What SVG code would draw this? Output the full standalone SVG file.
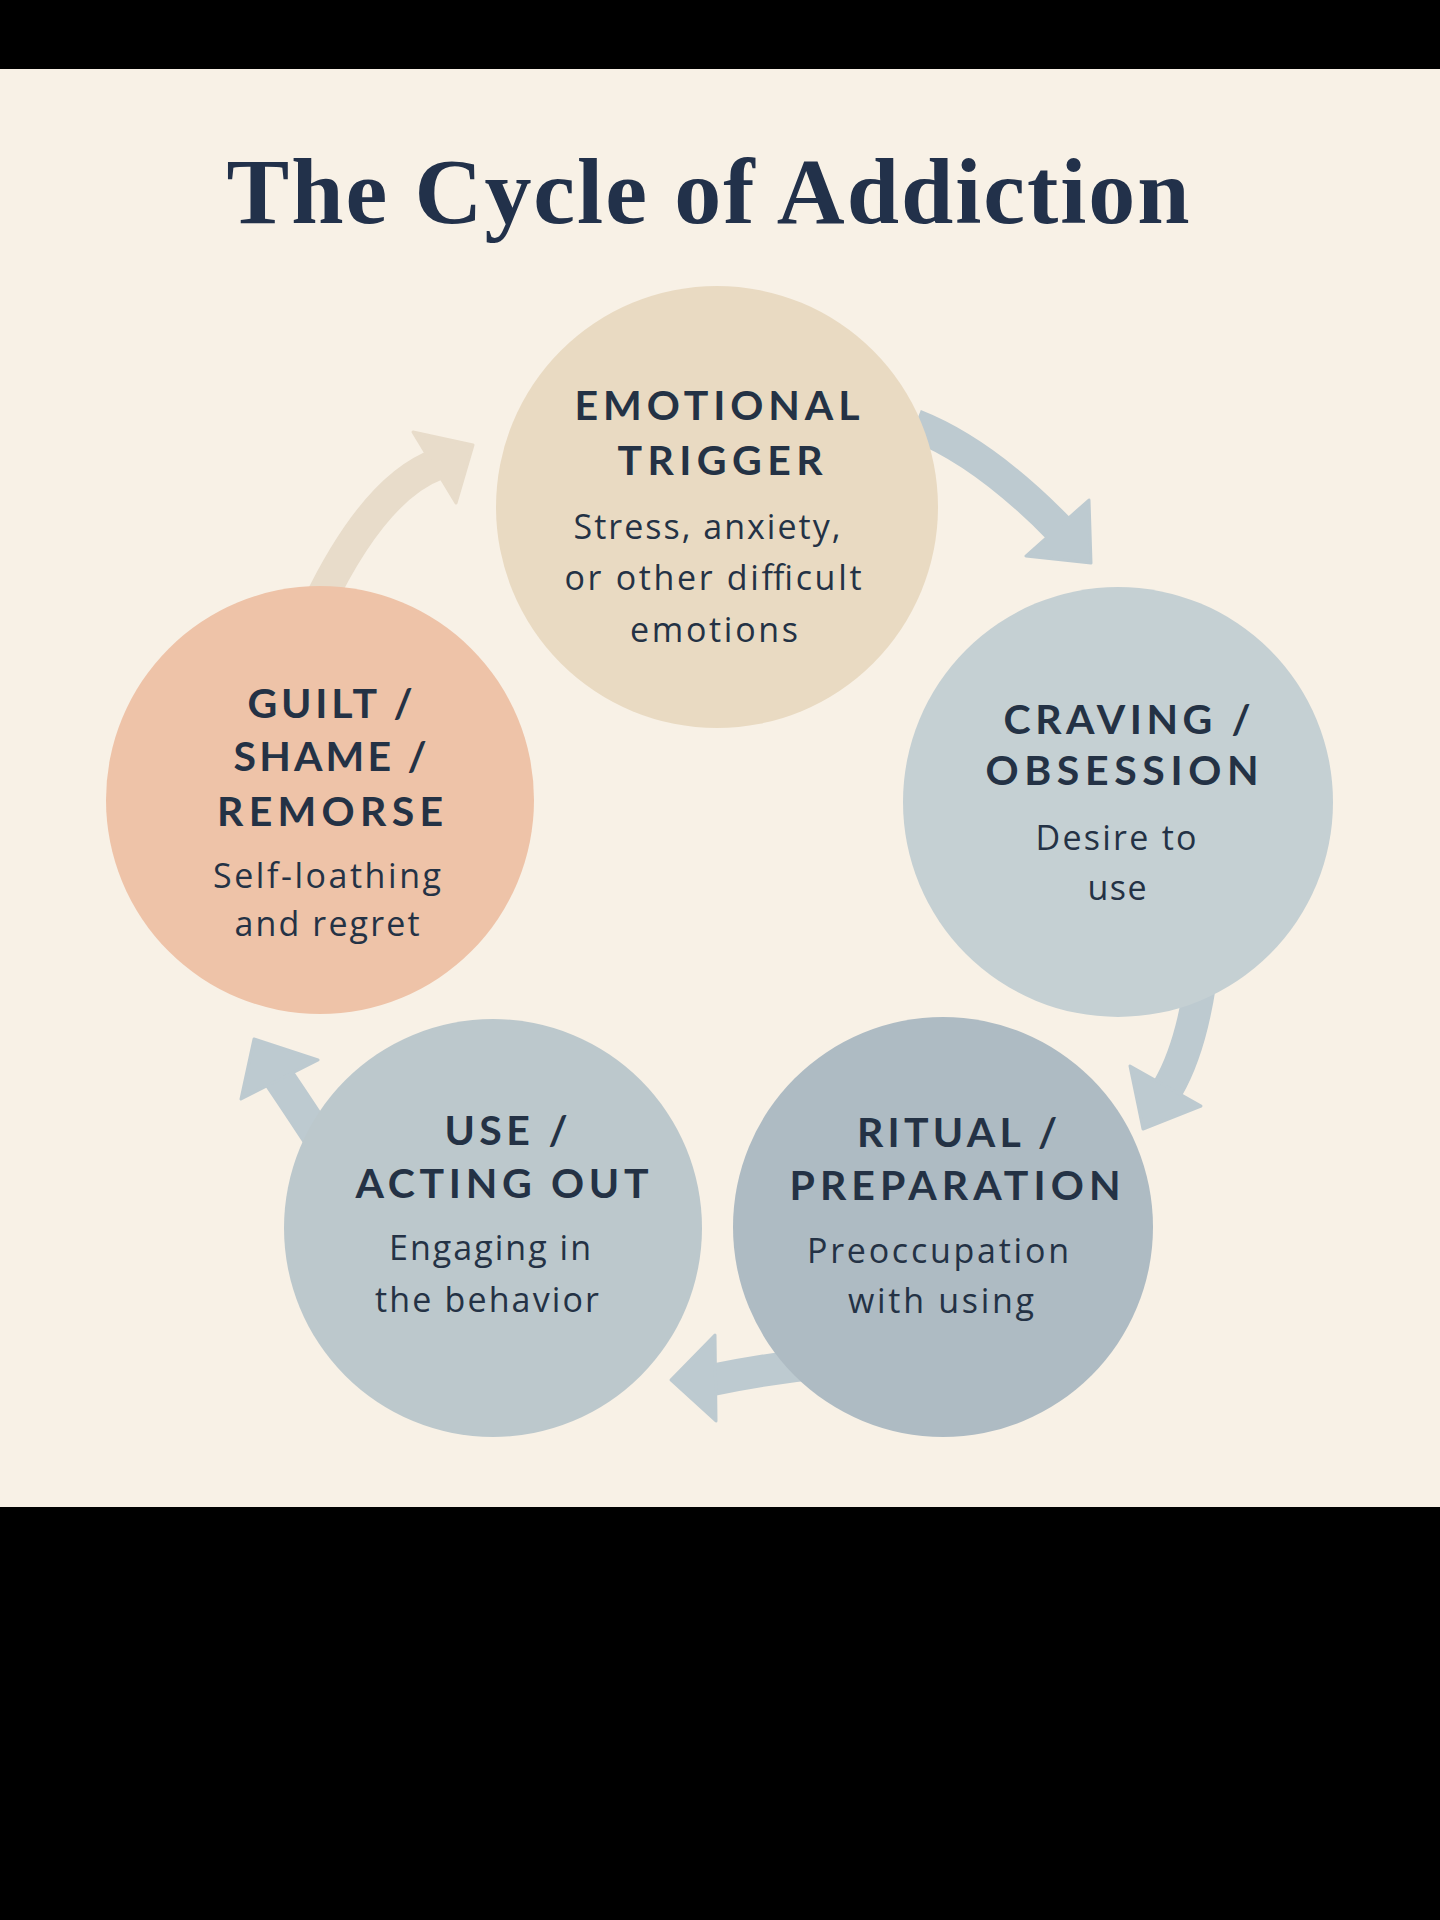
<svg xmlns="http://www.w3.org/2000/svg" width="1440" height="1920" viewBox="0 0 1440 1920">
  <style>
    .title { font-family: "Liberation Serif", "Times New Roman", serif; font-weight: 700; font-size: 94px; fill: #22314a; }
    .head { font-family: "Lato", "Noto Sans", sans-serif; font-weight: 700; font-size: 41px; fill: #243245; }
    .body { font-family: "Open Sans", "Noto Sans", sans-serif; font-weight: 400; font-size: 34px; fill: #243245; }
    .shaft-blue { fill: none; stroke: #BDCAD0; stroke-width: 32; }
    .head-blue { fill: #BDCAD0; stroke: #BDCAD0; stroke-width: 3; stroke-linejoin: round; }
    .shaft-beige { fill: none; stroke: #E8DCCA; stroke-width: 32; }
    .head-beige { fill: #E8DCCA; stroke: #E8DCCA; stroke-width: 3; stroke-linejoin: round; }
  </style>
  <rect x="0" y="0" width="1440" height="1920" fill="#000000"/>
  <rect x="0" y="69" width="1440" height="1438" fill="#F8F1E6"/>

  <text class="title" x="708" y="223" text-anchor="middle" textLength="963">The Cycle of Addiction</text>

  <g id="connectors">
    <g id="edge-trigger-craving">
      <path class="shaft-blue" d="M915,425 Q984,452 1060,530"/>
      <polygon class="head-blue" points="1089,500 1026,556 1091,563"/>
    </g>
    <g id="edge-craving-ritual">
      <path class="shaft-blue" d="M1200,985 Q1190,1050 1168,1088"/>
      <polygon class="head-blue" points="1130,1066 1201,1106 1143,1129"/>
    </g>
    <g id="edge-ritual-use">
      <path class="shaft-blue" d="M830,1362 Q770,1368 712,1380"/>
      <polygon class="head-blue" points="715,1335 716,1421 671,1380"/>
    </g>
    <g id="edge-use-guilt">
      <path class="shaft-blue" d="M328,1152 Q302,1112 279,1078"/>
      <polygon class="head-blue" points="254,1039 318,1060 241,1099"/>
    </g>
    <g id="edge-guilt-trigger">
      <path class="shaft-beige" d="M318,605 Q375,487 438,464"/>
      <polygon class="head-beige" points="413,432 473,445 456,503"/>
    </g>
  </g>

  <g id="node-emotional-trigger">
    <circle cx="717" cy="507" r="221" fill="#E9DAC2"/>
    <text class="head" x="717" y="420" text-anchor="middle" textLength="285">EMOTIONAL</text>
    <text class="head" x="720" y="475" text-anchor="middle" textLength="205">TRIGGER</text>
    <text class="body" x="707" y="539" text-anchor="middle" textLength="267">Stress, anxiety,</text>
    <text class="body" x="713" y="590" text-anchor="middle" textLength="297">or other difficult</text>
    <text class="body" x="714" y="642" text-anchor="middle" textLength="168">emotions</text>
  </g>

  <g id="node-craving">
    <circle cx="1118" cy="802" r="215" fill="#C5D0D3"/>
    <text class="head" x="1127" y="734" text-anchor="middle" textLength="247">CRAVING /</text>
    <text class="head" x="1122" y="785" text-anchor="middle" textLength="273">OBSESSION</text>
    <text class="body" x="1116" y="850" text-anchor="middle" textLength="161">Desire to</text>
    <text class="body" x="1117" y="900" text-anchor="middle" textLength="59">use</text>
  </g>

  <g id="node-ritual">
    <circle cx="943" cy="1227" r="210" fill="#AEBBC3"/>
    <text class="head" x="957" y="1147" text-anchor="middle" textLength="200">RITUAL /</text>
    <text class="head" x="955" y="1200" text-anchor="middle" textLength="331">PREPARATION</text>
    <text class="body" x="938" y="1263" text-anchor="middle" textLength="262">Preoccupation</text>
    <text class="body" x="941" y="1313" text-anchor="middle" textLength="186">with using</text>
  </g>

  <g id="node-use">
    <circle cx="493" cy="1228" r="209" fill="#BCC8CC"/>
    <text class="head" x="506" y="1145" text-anchor="middle" textLength="123">USE /</text>
    <text class="head" x="502" y="1198" text-anchor="middle" textLength="293">ACTING OUT</text>
    <text class="body" x="490" y="1260" text-anchor="middle" textLength="202">Engaging in</text>
    <text class="body" x="487" y="1312" text-anchor="middle" textLength="224">the behavior</text>
  </g>

  <g id="node-guilt">
    <circle cx="320" cy="800" r="214" fill="#EEC3A8"/>
    <text class="head" x="330" y="718" text-anchor="middle" textLength="165">GUILT /</text>
    <text class="head" x="330" y="771" text-anchor="middle" textLength="193">SHAME /</text>
    <text class="head" x="330" y="826" text-anchor="middle" textLength="226">REMORSE</text>
    <text class="body" x="327" y="888" text-anchor="middle" textLength="228">Self-loathing</text>
    <text class="body" x="327" y="936" text-anchor="middle" textLength="185">and regret</text>
  </g>
</svg>
